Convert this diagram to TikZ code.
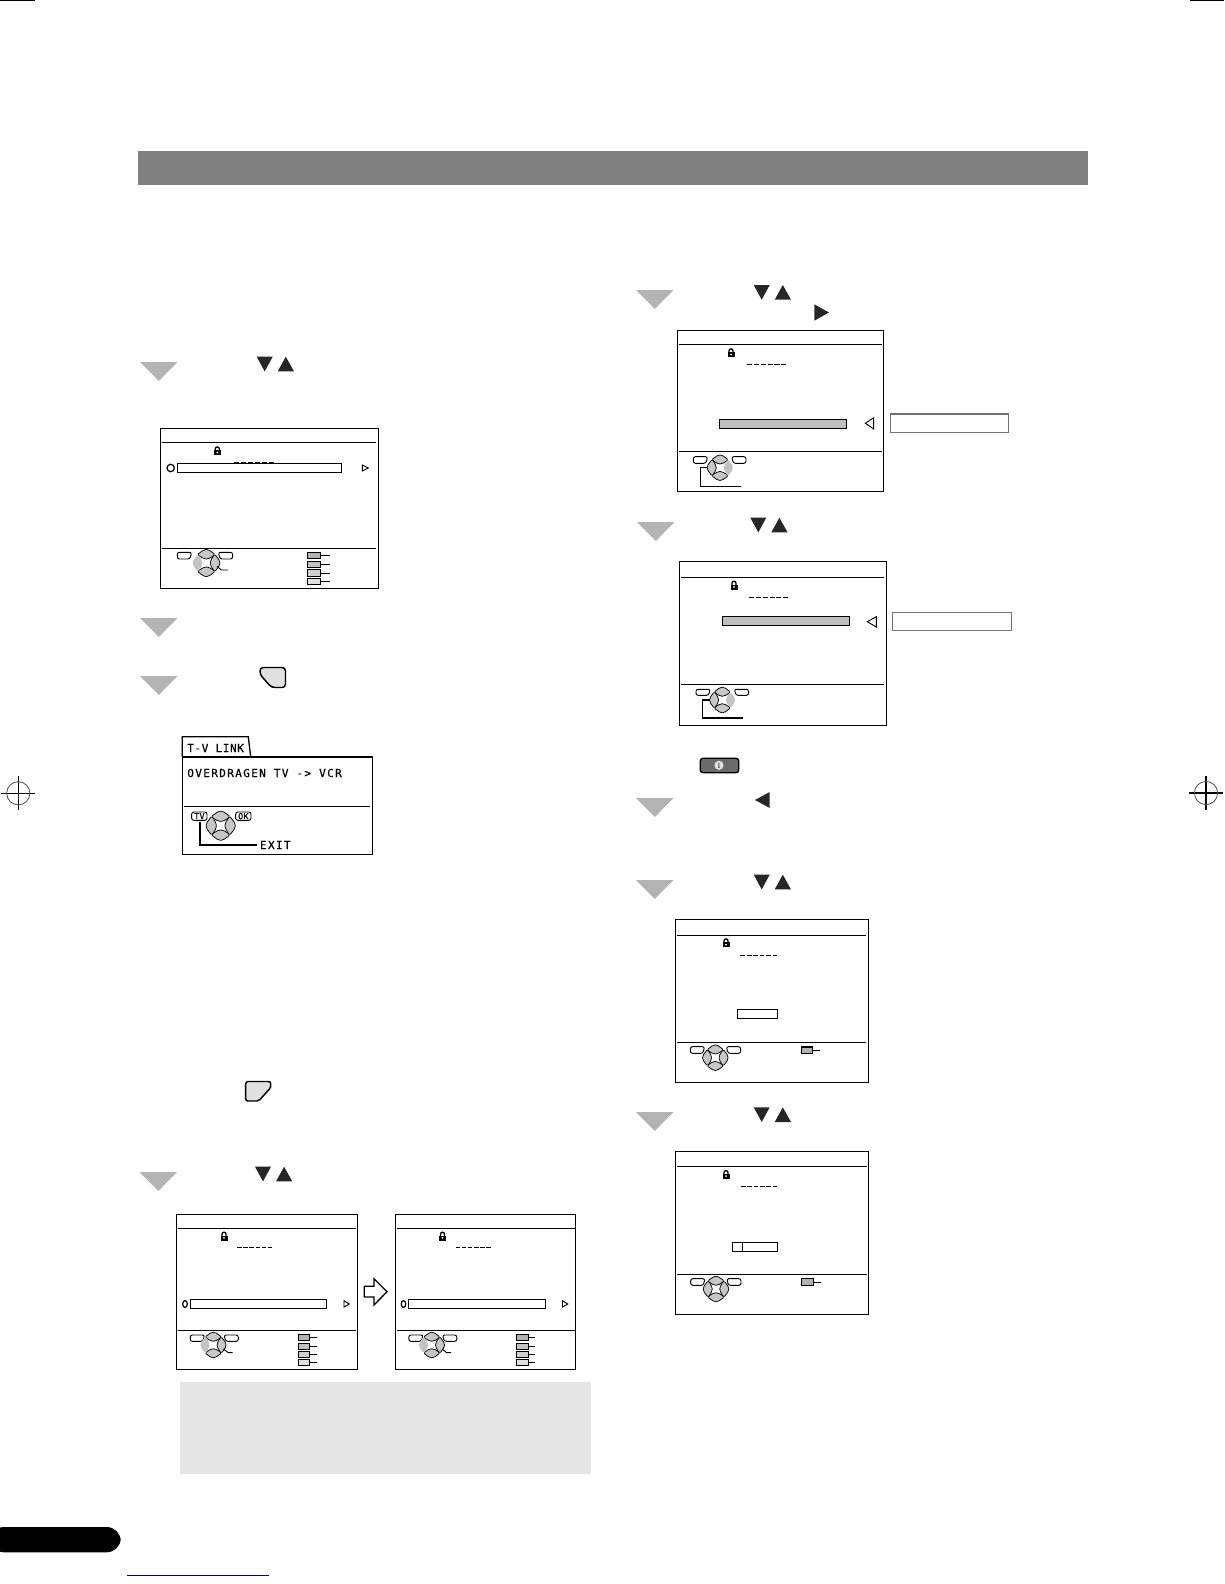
\documentclass[tikz,border=0pt]{standalone}
\usepackage{fontspec}
\newfontfamily\osdfont{DejaVu Sans Mono}[LetterSpace=5,FakeBold=0.5]
\newfontfamily\osdwide{DejaVu Sans Mono}[LetterSpace=12,FakeBold=0.5]
\definecolor{barGrey}{RGB}{128,128,128}
\definecolor{stepGrey}{RGB}{180,180,180}
\definecolor{noteGrey}{RGB}{230,230,230}
\definecolor{pageBlue}{RGB}{0,0,128}
\tikzset{every picture/.style={line width=0.75pt}}
\tikzset{
	osdbox/.style={draw=black,line width=1pt,fill=white},
	osdline/.style={draw=black,line width=1pt},
	stepmark/.style={fill=stepGrey},
	keymark/.style={fill=black!85},
	lobe/.style={draw=black,line width=0.55pt,rounded corners=1.2pt,fill=stepGrey!75},
	hotlobe/.style={fill=stepGrey!80,rounded corners=1.2pt},
	softkey/.style={draw=black,line width=0.7pt,fill=white,rounded corners=1.6pt},
	ptr/.style={draw=black,line width=0.7pt,fill=white},
	sidebox/.style={draw=black!55,line width=1pt,fill=white},
	osdtext/.style={inner sep=0pt,text=black,font=\osdfont\fontsize{8.3}{10}\selectfont},
}
% big grey step marker, #1 = left, #2 = top
\newcommand{\stepmark}[2]{\fill[stepmark] (#1,#2) -- ++(37.5,0) -- ++(-18.7,19) -- cycle;}
% down and up key pair, #1 = left, #2 = top
\newcommand{\downup}[2]{
	\fill[keymark] (#1,#2) -- ++(16,0) -- ++(-8,14.7) -- cycle;
	\fill[keymark] (#1+21,#2+14.7) -- ++(16.3,0) -- ++(-8.2,-14.7) -- cycle;
}
% padlock, #1 = x, #2 = y of its middle
\newcommand{\osdlock}[2]{
	\draw[line width=1pt] (#1-2,#2-0.5) -- ++(0,-1.6) arc (-180:0:2) -- ++(0,1.6);
	\fill[black] (#1-3.5,#2-0.8) rectangle (#1+3.5,#2+4.2);
	\fill[white] (#1,#2+1.5) circle (1);
}
% six dashes, #1 = left, #2 = right, #3 = y
\newcommand{\osddash}[3]{
	\foreach \d in {0,...,5}
		\draw[line width=0.9pt] ({#1+(#2-#1)*\d/6},#3) -- ({#1+(#2-#1)*(\d+0.75)/6},#3);
}
% round pad of four lobes, #1 = x, #2 = y, #3 = half width, #4..#7 = styles of up, right, down, left
\newcommand{\osdpad}[7]{
	\begin{scope}[shift={(#1,#2)},x=#3*0.075pt,y=#3*0.075pt]
		\path[#4] (-6.7,-6.2) -- (-1.5,-10) -- (1.5,-10) -- (6.7,-6.2) -- (1.5,-3) -- (-1.5,-3) -- cycle;
		\path[#6] (-6.7,6.2) -- (-1.5,10) -- (1.5,10) -- (6.7,6.2) -- (1.5,3) -- (-1.5,3) -- cycle;
		\path[#5] (6.2,-6.7) -- (10,-1.5) -- (10,1.5) -- (6.2,6.7) -- (3,1.5) -- (3,-1.5) -- cycle;
		\path[#7] (-6.2,-6.7) -- (-10,-1.5) -- (-10,1.5) -- (-6.2,6.7) -- (-3,1.5) -- (-3,-1.5) -- cycle;
	\end{scope}
}
% two soft keys beside a pad, #1 = left x of first, #2 = left x of second, #3 = top, #4 = bottom
\newcommand{\softkeys}[4]{
	\draw[softkey] (#1,#3) -- ({#1+14.3},#3) -- ({#1+12.6},#4) -- (#1,#4) -- cycle;
	\draw[softkey] (#2,#3) -- ({#2+14.3},#3) -- ({#2+14.3},#4) -- ({#2+1.7},#4) -- cycle;
}
% colour key with its lead, #1 = left, #2 = right, #3 = top, #4 = bottom, #5 = lead end, #6 = fill
\newcommand{\colkey}[6]{
	\draw[line width=0.8pt,fill=#6] (#1,#3) rectangle (#2,#4);
	\draw[line width=0.7pt] (#2,{(#3+#4)/2}) -- (#5,{(#3+#4)/2});
}

\begin{document}
\begin{tikzpicture}[x=0.75pt,y=0.75pt,yscale=-1,xscale=1]
	\useasboundingbox (0,0) rectangle (1224,1584);

	% crop marks
	\draw (0,1) -- (35,1);
	\draw (1190,1) -- (1224,1);
	\draw[line width=0.8pt] (1,793.3) -- (35,793.3);
	\draw[line width=0.8pt] (18.3,776) -- (18.3,810);
	\draw[black!70,line width=0.6pt] (18.3,793.3) circle (11.6);
	\draw[line width=0.8pt] (1189,793) -- (1223,793);
	\draw[line width=0.8pt] (1206,776) -- (1206,810);
	\draw[black!70,line width=0.6pt] (1206,793) circle (11.6);

	% head bar
	\fill[barGrey] (138,151) rectangle (1088,185);

	% step markers
	\stepmark{140}{362}
	\stepmark{140}{618}
	\stepmark{140}{676}
	\stepmark{139.5}{1172}
	\stepmark{636}{290}
	\stepmark{637}{522}
	\stepmark{636}{798}
	\stepmark{636}{880}
	\stepmark{636}{1112}

	% key marks
	\downup{256.7}{356.7}
	\downup{753.7}{285}
	\downup{750.3}{517.7}
	\downup{753.7}{874.7}
	\downup{753.7}{1107.3}
	\downup{255}{1166.7}
	\fill[keymark] (814.3,304.3) -- (814.3,320.7) -- (829,312.5) -- cycle;
	\fill[keymark] (755,800) -- (769.7,792) -- (769.7,808) -- cycle;

	% corner buttons
	\draw[line width=1.1pt,fill=black!12,rounded corners=2.5pt] (260,667.5) -- (285.5,667.5) -- (285.5,687.5) -- (271.5,687.5) -- (260,674.5) -- cycle;
	\draw[line width=1.1pt,fill=black!12] (248,1081.5) -- (268.5,1081.5) .. controls (270,1081.5) and (270.7,1082.5) .. (270.7,1084) -- (270.7,1086.5) .. controls (270.7,1087.5) and (270.2,1088.2) .. (269.5,1089) -- (260,1099.5) .. controls (259,1100.6) and (258,1101) .. (257,1101) -- (248,1101) .. controls (246.5,1101) and (245.7,1100) .. (245.7,1098.5) -- (245.7,1084) .. controls (245.7,1082.5) and (246.5,1081.5) .. (248,1081.5) -- cycle;

	% info button
	\draw[line width=1pt,fill=black!58,rounded corners=2pt] (700.3,758.3) rectangle (738.7,772.7);
	\fill[black!12] (719,765.3) circle (4.6);
	\node[inner sep=0pt,font=\bfseries\fontsize{6}{6}\selectfont,text=black!70] (infokey) at (719,765.3) {i};

	% menu at the top left
	\draw[osdbox] (160.7,428.7) rectangle (378.7,588.3);
	\draw[osdline] (162.3,442.3) -- (375.7,442.3);
	\draw[osdline] (162.3,548.7) -- (375.7,548.7);
	\osdlock{217.3}{451}
	\osddash{234}{276}{462.3}
	\draw[osdbox] (177.3,463.3) rectangle (341.7,472.7);
	\draw[line width=0.9pt] (170.7,468) circle (3.7);
	\draw[ptr] (362.3,465) -- (362.3,471) -- (368.3,468) -- cycle;
	\softkeys{177.3}{218.3}{552.3}{559}
	\osdpad{206.3}{563}{13.5}{lobe}{lobe}{lobe}{hotlobe}
	\draw[line width=0.7pt] (217,566.5) -- (221.5,570) -- (228,570);
	\colkey{307.3}{320.7}{552.3}{558.7}{330}{black!30}
	\colkey{307.3}{320.7}{561.3}{567.7}{330}{black!24}
	\colkey{307.3}{320.7}{569.7}{576.3}{330}{black!19}
	\colkey{307.3}{320.7}{578.7}{584.7}{330}{black!12}

	% T-V LINK screen
	\draw[line width=1pt,fill=white] (182.3,757) -- (182.3,736.7) -- (248.3,736.7) -- (250.7,757);
	\draw[osdbox] (182.3,757) rectangle (372.3,854.3);
	\draw[line width=0.8pt] (184,806.3) -- (370,806.3);
	\node[osdtext,anchor=west] (linktab) at (186.8,748) {T-V LINK};
	\node[osdtext,anchor=west,font=\osdwide\fontsize{8.3}{10}\selectfont] (linktitle) at (186.8,773) {OVERDRAGEN TV -> VCR};
	\node[osdtext,anchor=west,font=\osdwide\fontsize{8.3}{10}\selectfont] (linkexit) at (259.5,845) {EXIT};
	\osdpad{220.7}{825.7}{14.5}{lobe}{lobe}{lobe}{lobe}
	\draw[softkey] (191.7,812) rectangle (207,820.3);
	\draw[softkey] (235.7,812) rectangle (251,820.3);
	\node[inner sep=0pt,font=\osdfont\fontsize{6.2}{7}\selectfont] (linktv) at (199.4,816.2) {TV};
	\node[inner sep=0pt,font=\osdfont\fontsize{6.2}{7}\selectfont] (linkok) at (243.4,816.2) {OK};
	\draw[line width=1.3pt] (199.7,821.7) -- (199.7,845) -- (257.3,845);

	% menu at the top right
	\draw[osdbox] (677.7,330.4) rectangle (883.3,491.6);
	\draw[osdline] (679.3,344.3) -- (881.7,344.3);
	\draw[osdline] (679.3,451.3) -- (881.7,451.3);
	\osdlock{731}{353}
	\osddash{747.3}{788}{364.5}
	\draw[osdbox,fill=black!25] (719.3,419.7) rectangle (846.7,428.3);
	\draw[ptr] (873.7,417.7) -- (873.7,429) -- (865.3,423.3) -- cycle;
	\draw[sidebox] (890.3,414) rectangle (1008.7,432.3);
	\softkeys{693.3}{731.7}{456.7}{463.3}
	\osdpad{720}{467.7}{12.7}{lobe}{hotlobe}{lobe}{lobe}
	\draw[line width=0.9pt] (707.3,467.7) -- (700.3,467.7) -- (700.3,486.3) -- (740.7,486.3);

	% second menu on the right
	\draw[osdbox] (679.3,561.7) rectangle (886.7,725.3);
	\draw[osdline] (681,577.3) -- (884,577.3);
	\draw[osdline] (681,684.3) -- (884,684.3);
	\osdlock{734}{585.3}
	\osddash{749}{790}{597.5}
	\draw[osdbox,fill=black!25] (722.3,616.7) rectangle (849.7,625.7);
	\draw[ptr] (876.3,616.7) -- (876.3,627) -- (867.3,621.7) -- cycle;
	\draw[sidebox] (892.7,612.3) rectangle (1011.3,630.3);
	\softkeys{696}{734.3}{689.3}{695.3}
	\osdpad{722.3}{700}{12.7}{lobe}{hotlobe}{lobe}{lobe}
	\draw[line width=0.9pt] (710,700) -- (702.3,700) -- (702.3,718) -- (742.7,718);

	% third menu on the right
	\draw[osdbox] (675.7,919.7) rectangle (868.3,1082.3);
	\draw[osdline] (677.3,935.4) -- (866,935.4);
	\draw[osdline] (677.3,1042.3) -- (866,1042.3);
	\osdlock{726}{943}
	\osddash{740.3}{779}{955.5}
	\draw[osdbox] (737.3,1009.3) rectangle (777.7,1018.3);
	\softkeys{690.3}{726.3}{1046.7}{1053.3}
	\osdpad{715.3}{1057.7}{12.7}{lobe}{lobe}{lobe}{lobe}
	\colkey{801.3}{812.7}{1047}{1053.7}{820}{black!30}

	% fourth menu on the right
	\draw[osdbox] (675.7,1151.3) rectangle (868.3,1314.3);
	\draw[osdline] (677.3,1166.3) -- (867,1166.3);
	\draw[osdline] (677.3,1274.3) -- (867,1274.3);
	\osdlock{726}{1174.7}
	\osddash{741}{779}{1186.5}
	\draw[osdbox] (732.3,1242.7) rectangle (777.7,1251.7);
	\draw[osdline] (742.7,1242.7) -- (742.7,1251.7);
	\softkeys{690.7}{726.7}{1278.7}{1285.3}
	\osdpad{716}{1289}{12.7}{lobe}{lobe}{lobe}{lobe}
	\colkey{801.3}{813.7}{1278.7}{1285.7}{820.7}{black!30}

	% pair of menus at the bottom
	\foreach \dx in {0,218.5} {
		\begin{scope}[xshift=\dx*0.75pt]
			\draw[osdbox] (176.7,1214.3) rectangle (357.3,1369.3);
			\draw[osdline] (178,1228.3) -- (356,1228.3);
			\draw[osdline] (178,1330.3) -- (356,1330.3);
			\osdlock{224}{1236.3}
			\osddash{237}{274}{1247.5}
			\draw[osdbox] (190.3,1299.7) rectangle (326.7,1308.7);
			\draw[line width=0.9pt] (185,1304) ellipse (2.3 and 3.4);
			\draw[ptr] (344,1300.7) -- (344,1307) -- (349.3,1304) -- cycle;
			\softkeys{190.3}{224}{1335}{1341.3}
			\osdpad{213.3}{1345}{12.7}{lobe}{lobe}{lobe}{hotlobe}
			\draw[line width=0.7pt] (223.5,1349) -- (228.3,1352.7) -- (232.7,1352.5);
			\colkey{298.3}{309.7}{1334.3}{1340.7}{316.7}{black!30}
			\colkey{298.3}{309.7}{1343.3}{1349.7}{316.7}{black!24}
			\colkey{298.3}{309.7}{1351.3}{1357.3}{316.7}{black!19}
			\colkey{298.3}{309.7}{1359.3}{1365.7}{316.7}{black!12}
		\end{scope}
	}

	% hollow arrow between them
	\draw[line width=1pt] (364.3,1286.3) -- (374,1286.3) -- (374,1278.7) -- (387,1291.7) -- (374,1305) -- (374,1297) -- (364.3,1297) -- cycle;

	% note panel
	\fill[noteGrey] (180,1382) rectangle (591,1474);

	% page number pill and rule
	\fill[black,rounded corners=10.5pt] (-10,1527) rectangle (120.7,1552.3);
	\draw[pageBlue,line width=1pt] (127,1575.3) -- (268.7,1575.3);
\end{tikzpicture}
\end{document}
